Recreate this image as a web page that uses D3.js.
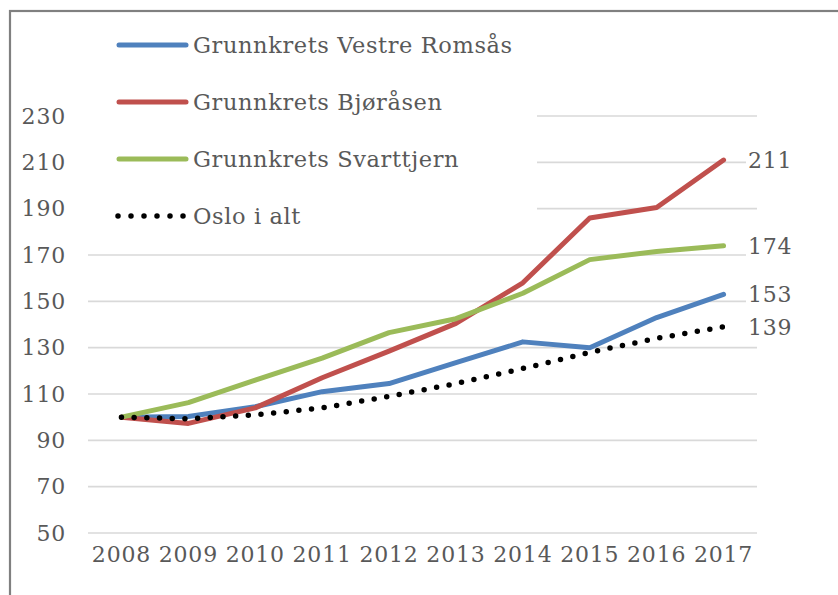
<!DOCTYPE html>
<html lang="en">
<head>
<meta charset="UTF-8">
<title>Grunnkrets index</title>
<script src="https://cdn.jsdelivr.net/npm/d3@7"></script>
<style>
    body { margin: 0; background: #fff; }
    svg { display: block; }
    text { fill: #595959; font-family: "DejaVu Serif", serif; }
</style>
</head>
<body>
<svg id="chart" width="838" height="595"></svg>
<script>
// data (index, 2008 = 100)
const years = ["2008", "2009", "2010", "2011", "2012", "2013", "2014", "2015", "2016", "2017"];
const vestreRomsas = [100, 100.3, 104.5, 111, 114.5, 123.5, 132.5, 130, 143, 153];
const bjorasen = [100, 97.3, 104, 117, 128.5, 140.5, 158, 186, 190.5, 211];
const svarttjern = [100, 106.3, 116, 125.5, 136.5, 142.5, 153.5, 168, 171.5, 174];
const osloIAlt = [100, 99.3, 101, 104, 109, 114.5, 121, 128, 134, 139];
const yTicks = [50, 70, 90, 110, 130, 150, 170, 190, 210, 230];
const endLabels = ["211", "174", "153", "139"];

const series = [
    { name: "Grunnkrets Vestre Romsås", values: vestreRomsas, color: "#4f81bd", dotted: false, label: endLabels[2] },
    { name: "Grunnkrets Bjøråsen", values: bjorasen, color: "#c0504d", dotted: false, label: endLabels[0] },
    { name: "Grunnkrets Svarttjern", values: svarttjern, color: "#9bbb59", dotted: false, label: endLabels[1] },
    { name: "Oslo i alt", values: osloIAlt, color: "#000000", dotted: true, label: endLabels[3] }
];

const svg = d3.select("#chart");

// outer frame, cut off on the right and bottom like the screenshot
svg.append("rect")
    .attr("x", 10).attr("y", 11)
    .attr("width", 900).attr("height", 700)
    .attr("fill", "none")
    .attr("stroke", "#808080")
    .attr("stroke-width", 2.2);

const x = d3.scaleBand().domain(years).range([88, 757]);
const y = d3.scaleLinear().domain([50, 230]).range([533, 116]);
const cx = d => x(d) + x.bandwidth() / 2;

// gridlines
svg.append("g")
    .selectAll("line")
    .data(yTicks)
    .enter().append("line")
    .attr("x1", 88).attr("x2", 757)
    .attr("y1", d => y(d)).attr("y2", d => y(d))
    .attr("stroke", "#d9d9d9")
    .attr("stroke-width", 1.6);

// y axis labels
const yAxis = svg.append("g")
    .attr("transform", "translate(66,0)")
    .call(d3.axisLeft(y).tickValues(yTicks).tickSize(0).tickPadding(0));
yAxis.select(".domain").remove();
yAxis.selectAll("text")
    .attr("font-family", "DejaVu Serif, serif")
    .attr("font-size", 22)
    .attr("letter-spacing", 0.8)
    .attr("fill", "#595959");

// x axis labels
const xAxis = svg.append("g")
    .attr("transform", "translate(0,546)")
    .call(d3.axisBottom(x).tickSize(0).tickPadding(0));
xAxis.select(".domain").remove();
xAxis.selectAll("text")
    .attr("font-family", "DejaVu Serif, serif")
    .attr("font-size", 22)
    .attr("letter-spacing", 0.8)
    .attr("fill", "#595959");

const line = d3.line()
    .x((d, i) => cx(years[i]))
    .y(d => y(d));

// data lines
svg.append("g")
    .selectAll("path")
    .data(series)
    .enter().append("path")
    .attr("d", d => line(d.values))
    .attr("fill", "none")
    .attr("stroke", d => d.color)
    .attr("stroke-width", d => d.dotted ? 5.5 : 5)
    .attr("stroke-linecap", "round")
    .attr("stroke-linejoin", "round")
    .attr("stroke-dasharray", d => d.dotted ? "0 12.7" : null);

// end labels with white boxes so the gridlines stop at them
const endG = svg.append("g");
series.forEach(s => {
    const last = s.values[s.values.length - 1];
    const t = endG.append("text")
        .attr("x", 748)
        .attr("y", y(last))
        .attr("dy", "0.36em")
        .attr("font-size", 22)
        .attr("letter-spacing", 0.8)
        .text(s.label);
    const bb = t.node().getBBox();
    endG.insert("rect", "text")
        .attr("x", bb.x - 2).attr("y", bb.y)
        .attr("width", bb.width + 4).attr("height", bb.height)
        .attr("fill", "#fff");
});

// legend, with a white background that hides the upper gridlines
const legend = svg.append("g");
legend.append("rect")
    .attr("x", 87).attr("y", 20)
    .attr("width", 450).attr("height", 218)
    .attr("fill", "#fff");

const legendY = d3.scalePoint().domain(series.map(s => s.name)).range([45, 216]);

const item = legend.selectAll("g.item")
    .data(series)
    .enter().append("g")
    .attr("class", "item")
    .attr("transform", d => `translate(0,${legendY(d.name)})`);

item.append("line")
    .attr("x1", d => d.dotted ? 118 : 119)
    .attr("x2", 186)
    .attr("stroke", d => d.color)
    .attr("stroke-width", d => d.dotted ? 5.5 : 5)
    .attr("stroke-linecap", "round")
    .attr("stroke-dasharray", d => d.dotted ? "0 13" : null);

item.append("text")
    .attr("x", 193)
    .attr("dy", "0.36em")
    .attr("font-size", 22.5)
    .attr("letter-spacing", 0.6)
    .text(d => d.name);
</script>
</body>
</html>
